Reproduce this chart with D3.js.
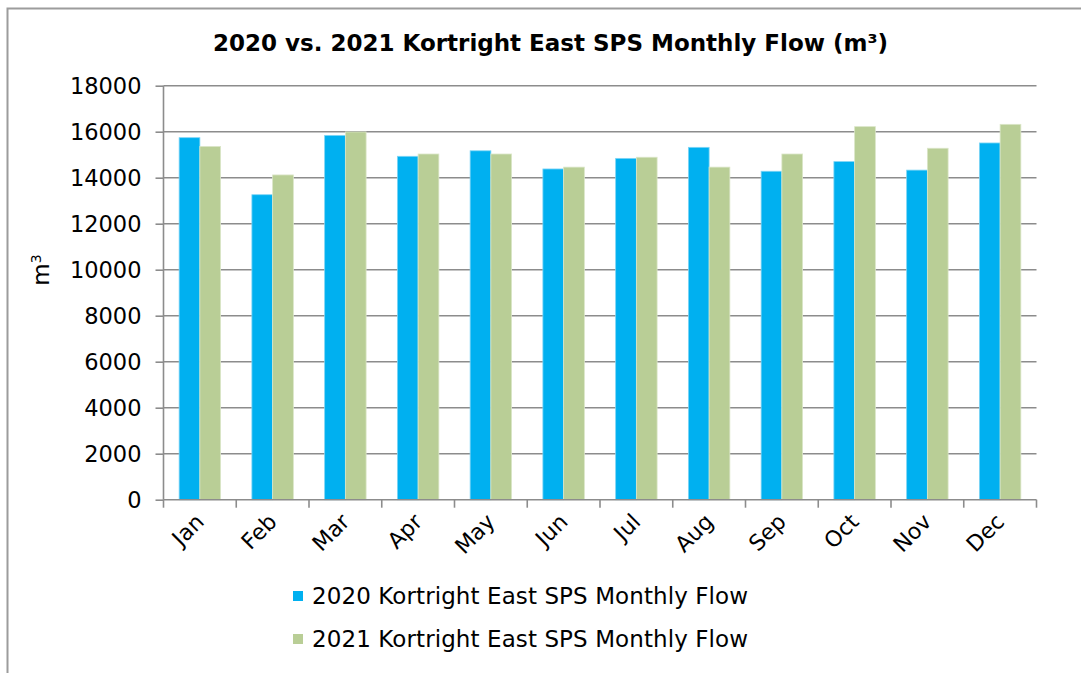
<!DOCTYPE html>
<html>
<head>
<meta charset="utf-8">
<script src="https://cdn.jsdelivr.net/npm/d3@7"></script>
<style>
  html, body { margin: 0; padding: 0; background: #fff; }
  svg { display: block; }
  text { font-family: Verdana, "DejaVu Sans", sans-serif; fill: #000; }
</style>
</head>
<body>
<svg id="chart" width="1081" height="673"></svg>
<script>
const months = ["Jan","Feb","Mar","Apr","May","Jun","Jul","Aug","Sep","Oct","Nov","Dec"];
const flow2020 = [15740, 13260, 15840, 14930, 15170, 14380, 14840, 15320, 14280, 14700, 14330, 15510];
const flow2021 = [15360, 14120, 15990, 15030, 15030, 14460, 14890, 14460, 15030, 16220, 15280, 16320];
const yTicks = [0, 2000, 4000, 6000, 8000, 10000, 12000, 14000, 16000, 18000];
const seriesNames = ["2020 Kortright East SPS Monthly Flow", "2021 Kortright East SPS Monthly Flow"];
const seriesColors = ["#00B0F0", "#B9CE96"];
const titleText = "2020 vs. 2021 Kortright East SPS Monthly Flow (m³)";

const svg = d3.select("#chart");
const W = 1081, H = 673;
const plot = { left: 163.5, right: 1036.5, top: 85.7, bottom: 499.7 };

// outer border (top and left visible)
svg.append("path")
  .attr("d", `M7.5,${H} L7.5,8.5 L${W},8.5`)
  .attr("fill", "none").attr("stroke", "#9c9c9c").attr("stroke-width", 2);

// title
svg.append("text")
  .attr("x", 213).attr("y", 51)
  .attr("textLength", 675).attr("lengthAdjust", "spacing")
  .style("font-family", "'DejaVu Sans', sans-serif")
  .style("font-weight", "bold")
  .style("font-size", "23px")
  .text(titleText);

const x = d3.scaleBand().domain(months).range([plot.left, plot.right]).paddingInner(0.43).paddingOuter(0.215);
const x1 = d3.scaleBand().domain([0, 1]).range([0, x.bandwidth()]);
const y = d3.scaleLinear().domain([0, 18000]).range([plot.bottom, plot.top]);

// gridlines
svg.append("g").selectAll("line").data(yTicks.filter(d => d > 0)).join("line")
  .attr("x1", plot.left).attr("x2", plot.right)
  .attr("y1", d => y(d)).attr("y2", d => y(d))
  .attr("stroke", "#8c8c8c").attr("stroke-width", 1.6);

// bars
const data = months.map((m, i) => ({ m, vals: [flow2020[i], flow2021[i]] }));
const groups = svg.append("g").selectAll("g").data(data).join("g")
  .attr("transform", d => `translate(${x(d.m)},0)`);
groups.selectAll("rect").data(d => d.vals.map((v, k) => ({ v, k }))).join("rect")
  .attr("x", d => x1(d.k))
  .attr("width", x1.bandwidth())
  .attr("y", d => y(d.v))
  .attr("height", d => y(0) - y(d.v))
  .attr("fill", d => seriesColors[d.k])
  .attr("stroke", d => d.k === 0 ? "#7fd5f5" : "#dbe6c8")
  .attr("stroke-width", 0.8);

// y axis
const yAxis = d3.axisLeft(y).tickValues(yTicks).tickSize(8).tickPadding(14).tickFormat(d3.format("d"));
const gy = svg.append("g").attr("transform", `translate(${plot.left},0)`).call(yAxis);
gy.select(".domain").attr("stroke", "#8c8c8c").attr("stroke-width", 1.6).attr("d", `M-0,${plot.top}V${plot.bottom}`);
gy.selectAll(".tick line").attr("stroke", "#8c8c8c").attr("stroke-width", 1.6);
gy.selectAll(".tick text").style("font-family", "Verdana, 'DejaVu Sans', sans-serif").style("font-size", "22.5px").attr("fill", "#000").attr("dy", "0.36em");

// x axis with boundary ticks
const boundaries = d3.range(13).map(i => plot.left + i * (plot.right - plot.left) / 12);
const gx = svg.append("g");
gx.append("line").attr("x1", plot.left).attr("x2", plot.right).attr("y1", plot.bottom).attr("y2", plot.bottom)
  .attr("stroke", "#8c8c8c").attr("stroke-width", 1.6);
gx.selectAll("line.tk").data(boundaries).join("line").attr("class", "tk")
  .attr("x1", d => d).attr("x2", d => d).attr("y1", plot.bottom).attr("y2", plot.bottom + 8)
  .attr("stroke", "#8c8c8c").attr("stroke-width", 1.6);
gx.selectAll("text").data(months).join("text")
  .attr("transform", d => `translate(${x(d) + x.bandwidth() / 2},${plot.bottom + 18}) rotate(-45)`)
  .attr("text-anchor", "end")
  .attr("dy", "0.35em")
  .style("font-size", "22px")
  .text(d => d);

// y axis title
const yt = svg.append("text")
  .attr("transform", "translate(49,270) rotate(-90)")
  .attr("text-anchor", "middle")
  .style("font-size", "23px");
yt.append("tspan").text("m");
yt.append("tspan").attr("dy", "-0.55em").style("font-size", "14px").text("3");

// legend
const legend = svg.append("g").selectAll("g").data(seriesNames).join("g")
  .attr("transform", (d, i) => `translate(293,${591 + i * 43})`);
legend.append("rect").attr("width", 10).attr("height", 10).attr("fill", (d, i) => seriesColors[i]);
legend.append("text").attr("x", 19).attr("y", 13)
  .attr("textLength", 436).attr("lengthAdjust", "spacing")
  .style("font-size", "23px").text(d => d);
</script>
</body>
</html>
